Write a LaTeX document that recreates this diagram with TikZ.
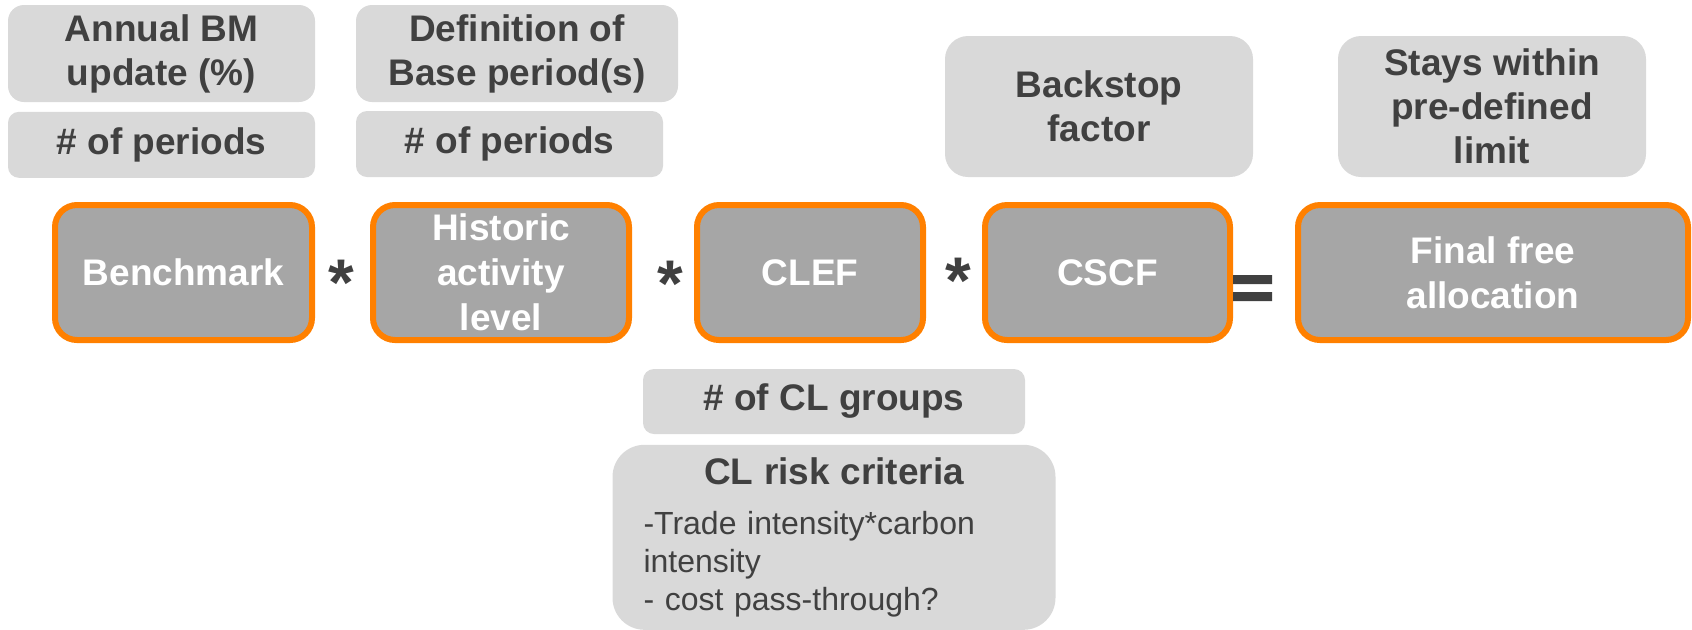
\documentclass[tikz,border=0pt]{standalone}
\usepackage{fontspec}
\setmainfont{Liberation Sans}
\usepackage{xcolor}
\usetikzlibrary{positioning}

\definecolor{inputgray}{HTML}{D9D9D9}
\definecolor{factorgray}{HTML}{A6A6A6}
\definecolor{factororange}{HTML}{FF8000}
\definecolor{labelgray}{HTML}{404040}

\tikzset{
  inputbox/.style={rectangle, fill=inputgray, text=labelgray, align=center, inner sep=0pt,
    font=\bfseries\fontsize{18.5}{22}\selectfont},
  factorbox/.style={rectangle, fill=factorgray, draw=factororange, line width=3pt,
    rounded corners=11pt, text=white, align=center, inner sep=0pt, minimum height=67.5pt,
    font=\bfseries\fontsize{18.5}{22.5}\selectfont},
  opsign/.style={text=labelgray, inner sep=0pt, anchor=base, font=\bfseries\fontsize{33}{33}\selectfont}
}

\begin{document}
\begin{tikzpicture}[x=0.5pt, y=-0.5pt]
		\useasboundingbox (0,0) rectangle (1692,629);

		% Input boxes
		\node (annual) [inputbox, minimum width=153.5pt, minimum height=48.5pt, rounded corners=8pt] at (161.5,53.5) {Annual BM\\update (\%)};
		\node (periodsA) [inputbox, minimum width=153.5pt, minimum height=33pt, rounded corners=5.5pt, below=4.5pt of annual] {\# of periods};
		\node (baseperiod) [inputbox, minimum width=161pt, minimum height=48.5pt, rounded corners=8pt] at (517,53.5) {Definition of\\Base period(s)};
		\node (periodsB) [inputbox, minimum width=153.5pt, minimum height=33pt, rounded corners=5.5pt] at (509.5,144) {\# of periods};
		\node (backstop) [inputbox, minimum width=154pt, minimum height=70.5pt, rounded corners=11.5pt] at (1099,106.5) {Backstop\\factor};
		\node (limit) [inputbox, minimum width=154pt, minimum height=70.5pt, rounded corners=11.5pt] at (1492,106.5) {Stays within\\pre-defined\\limit};

		% Factors
		\node (benchmark) [factorbox, minimum width=128.5pt] at (183.5,272.5) {Benchmark};
		\node (activity) [factorbox, minimum width=128pt] at (501,272.5) {Historic\\activity\\level};
		\node (clef) [factorbox, minimum width=113pt] at (810,272.5) {CLEF};
		\node (cscf) [factorbox, minimum width=122.5pt] at (1107.5,272.5) {CSCF};
		\node (final) [factorbox, minimum width=195pt] at (1493,272.5) {Final free\\allocation};

		% Operators
		\node (times1) [opsign] at (341.5,305) {*};
		\node (times2) [opsign] at (670,306) {*};
		\node (times3) [opsign] at (958,303.5) {*};
		% equal sign (two bars)
		\fill[labelgray] (1233,275) rectangle (1272,284) (1233,292) rectangle (1272,301);

		% Carbon leakage boxes
		\node (clgroups) [inputbox, minimum width=191pt, minimum height=32.5pt, rounded corners=5.5pt] at (834,401.5) {\# of CL groups};
		\node (clrisk) [inputbox, minimum width=221.5pt, minimum height=92.5pt, rounded corners=16pt,
			text width=190.5pt, align=left, below=5pt of clgroups, font=\fontsize{16}{19}\selectfont]
			{\vspace*{4pt}\makebox[190.5pt]{\bfseries\fontsize{18.5}{22}\selectfont CL risk criteria}\\[2pt]
			-Trade intensity*carbon\\intensity\\- cost pass-through?};

	\end{tikzpicture}
\end{document}
